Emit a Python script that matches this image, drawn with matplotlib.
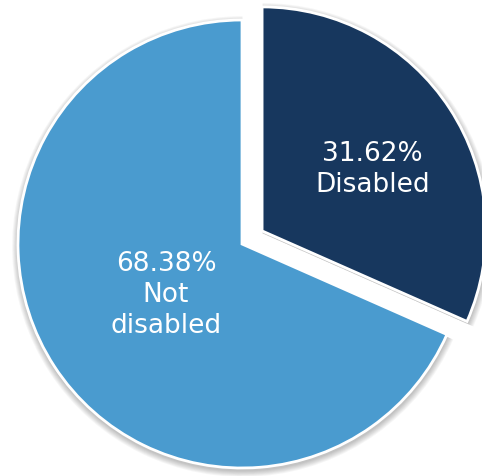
import matplotlib
matplotlib.use("Agg")
import matplotlib.pyplot as plt
from matplotlib.patches import Wedge
import numpy as np

categories = ["Disabled", "Not disabled"]
label_lines = ["Disabled", "Not\ndisabled"]
values = [31.62, 68.38]
colors = ["#17375E", "#4A9BCF"]
explode_frac = [0.107, 0.0]
label_frac = [0.55, 0.41]
label_nudge = [(7, -5), (1, 0)]

W, H = 482, 477
fig = plt.figure(figsize=(W / 100, H / 100), dpi=100)
ax = fig.add_axes([0, 0, 1, 1])

R = 224
cx, cy = 242, H - 245

wedges, _ = ax.pie(values, colors=colors, startangle=90, counterclock=False,
                   explode=[e * R for e in explode_frac], radius=R, center=(cx, cy),
                   wedgeprops=dict(edgecolor="white", linewidth=2.0),
                   frame=True)
ax.set_xlim(0, W)
ax.set_ylim(0, H)
ax.set_aspect("equal")
ax.axis("off")

# soft shadow behind wedges
for w in wedges:
    for k in range(7):
        sh = Wedge((w.center[0] + 0.5, w.center[1] - 2.5), w.r + 1 + k * 0.9,
                   w.theta1, w.theta2, facecolor="black", edgecolor="none",
                   alpha=0.035, zorder=0)
        ax.add_patch(sh)
    w.set_zorder(2)

for w, v, lab, f, (nx, ny) in zip(wedges, values, label_lines, label_frac, label_nudge):
    mid = np.deg2rad((w.theta1 + w.theta2) / 2)
    x = w.center[0] + f * w.r * np.cos(mid) + nx
    y = w.center[1] + f * w.r * np.sin(mid) + ny
    ax.text(x, y, f"{v:.2f}%\n{lab}", ha="center", va="center", color="white",
            fontsize=19, family="DejaVu Sans", linespacing=1.25, zorder=3)

fig.savefig("out.png", dpi=100, facecolor="white")
